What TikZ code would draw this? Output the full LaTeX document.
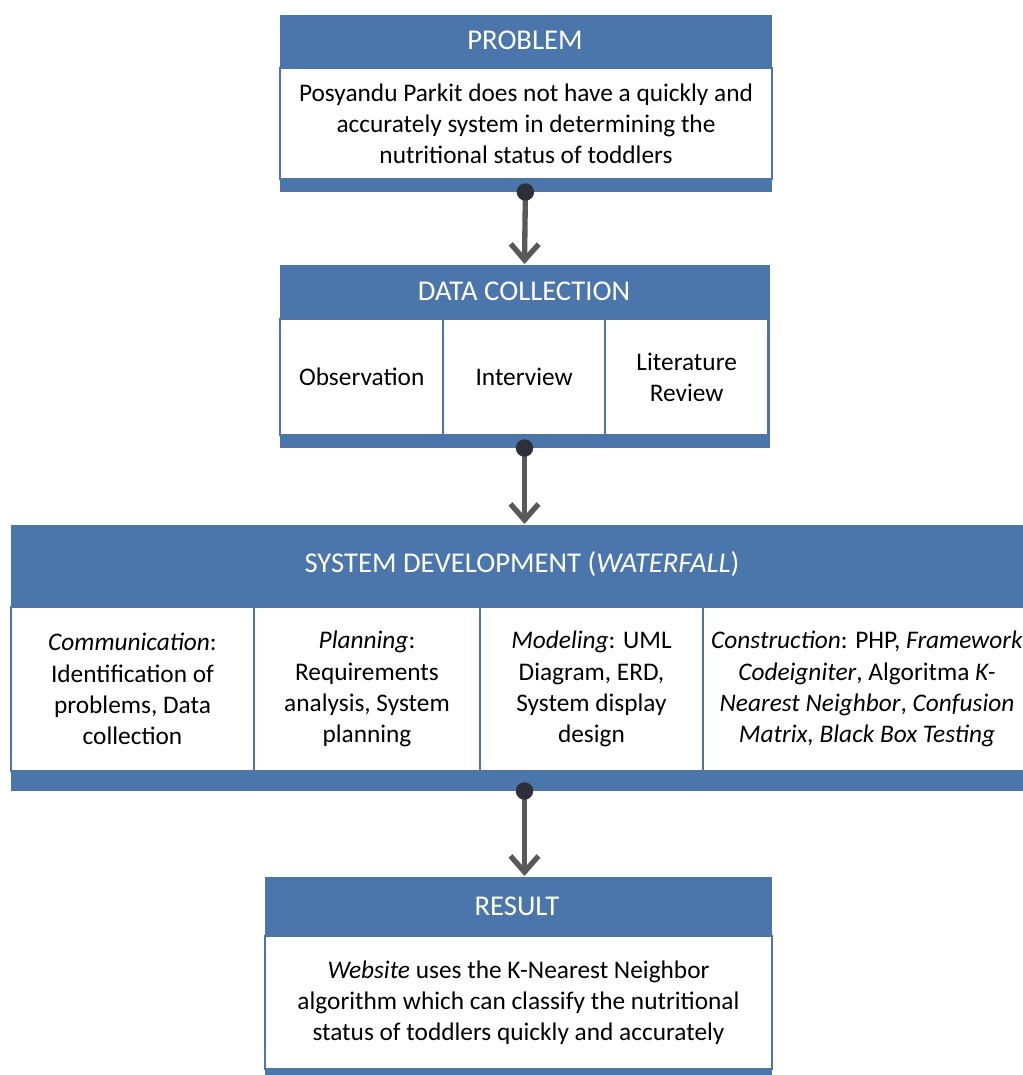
\documentclass[tikz,border=0pt]{standalone}
\usepackage{fontspec}
\setmainfont{Carlito}
\usetikzlibrary{arrows.meta}
\definecolor{hdrblue}{RGB}{74,118,172}
\definecolor{flowgray}{RGB}{89,89,89}
\definecolor{dotgray}{RGB}{45,48,56}
\newcommand{\cellfont}{\fontsize{19}{23.4}\selectfont}
\newcommand{\bandfont}{\fontsize{21.5}{26}\selectfont}
\tikzset{every picture/.style={line width=0.75pt}}
\tikzset{
  band/.style={fill=hdrblue, draw=none, anchor=north west, inner sep=0pt},
  panel/.style={fill=white, draw=hdrblue, line width=1.5pt, anchor=north west, inner sep=2pt, align=center, font=\cellfont},
  bandtitle/.style={text=white, inner sep=0.75pt, font=\bandfont},
  flow/.style={line width=4pt, draw=flowgray, {Circle[length=13pt,color=dotgray]}-{Straight Barb[length=12pt,width=21pt]}}
}

\begin{document}
\begin{tikzpicture}[x=0.75pt,y=0.75pt,yscale=-1,xscale=1]
\useasboundingbox (0,0) rectangle (1023,1075);

%Shape: Rectangle [problem]
\node[band, minimum width=369pt, minimum height=132.75pt] (prob) at (279,14) {};
\node[panel, minimum width=369pt, minimum height=83.25pt] (probtxt) at (279,67) {Posyandu Parkit does not have a quickly and\\accurately system in determining the\\nutritional status of toddlers};
% Text Node
\node[bandtitle] (probhd) at (525,40) {PROBLEM};

%Shape: Rectangle [data collection]
\node[band, minimum width=367.5pt, minimum height=137.25pt] (data) at (279,264) {};
\node[panel, minimum width=122.5pt, minimum height=87pt] (obs) at (279,318) {Observation};
\node[panel, minimum width=122.5pt, minimum height=87pt] (intv) at (441.5,318) {Interview};
\node[panel, minimum width=122.5pt, minimum height=87pt] (lit) at (604,318) {Literature\\Review};
% Text Node
\node[bandtitle] (datahd) at (524,291) {DATA COLLECTION};

%Shape: Rectangle [system development]
\node[band, minimum width=765pt, minimum height=199.5pt] (sys) at (10,524) {};
\node[panel, minimum width=182.25pt, minimum height=123pt] (comm) at (10,606) {\textit{Communication}:\\Identification of\\problems, Data\\collection};
\node[panel, minimum width=169.5pt, minimum height=123pt] (plan) at (253,606) {\textit{Planning}:\\Requirements\\analysis, System\\planning};
\node[panel, minimum width=167.25pt, minimum height=123pt] (model) at (479,606) {\textit{Modeling}: UML\\Diagram, ERD,\\System display\\design};
\node[panel, minimum width=246pt, minimum height=123pt] (cons) at (702,606) {\textit{Construction}: PHP, \textit{Framework}\\\textit{Codeigniter}, Algoritma \textit{K-}\\\textit{Nearest Neighbor}, \textit{Confusion}\\\textit{Matrix, Black Box Testing}};
% Text Node
\node[bandtitle] (syshd) at (522,564) {SYSTEM DEVELOPMENT (\textit{WATERFALL})};

%Shape: Rectangle [result]
\node[band, minimum width=380.25pt, minimum height=153pt] (res) at (264,876) {};
\node[panel, minimum width=380.25pt, minimum height=99.75pt] (restxt) at (264,935) {\textit{Website} uses the K-Nearest Neighbor\\algorithm which can classify the nutritional\\status of toddlers quickly and accurately};
% Text Node
\node[bandtitle] (reshd) at (517,906) {RESULT};

%Straight Lines [flow]
\draw[flow] ([yshift=-6.5pt]prob.south) -- (data.north);
\draw[flow] ([yshift=-6.5pt]data.south) -- (data.south |- sys.north);
\draw[flow] ([yshift=-6.5pt]data.south |- sys.south) -- (data.south |- res.north);

\end{tikzpicture}
\end{document}
